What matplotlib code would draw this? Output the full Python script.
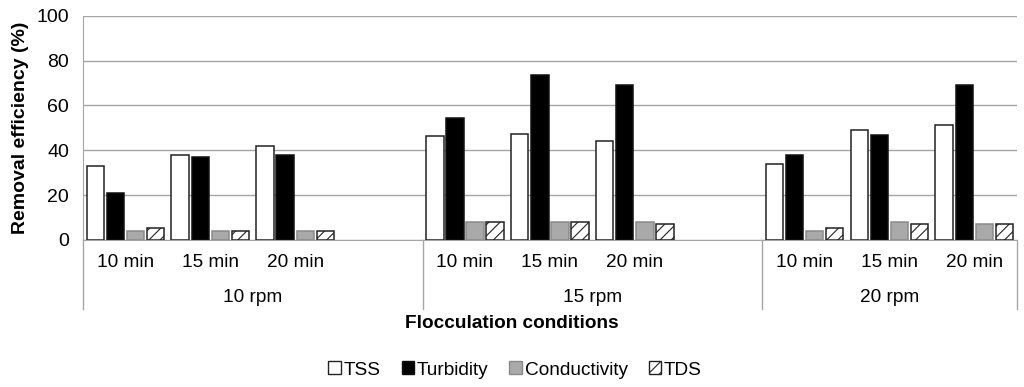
import matplotlib
matplotlib.use("Agg")
import matplotlib.pyplot as plt
from matplotlib.patches import Patch

# Data
speeds = ["10 rpm", "15 rpm", "20 rpm"]
times = ["10 min", "15 min", "20 min"]
tss = [33, 38, 42, 46.5, 47.2, 44.2, 34, 49, 51.2]
turbidity = [21, 37, 38, 54.2, 73.4, 69, 38, 47, 69]
conductivity = [4, 4, 4, 8.2, 8.2, 8.2, 4, 8.2, 7]
tds = [5.3, 4, 4, 8.2, 8.2, 7.1, 5.2, 7.1, 7]
group_slots = [4, 4, 3]  # Excel leaves an empty slot after the first two groups

plt.rcParams['font.family'] = ['Liberation Sans', 'DejaVu Sans']
plt.rcParams['hatch.linewidth'] = 0.8

fig = plt.figure(figsize=(10.24, 3.87), dpi=100)
ax = fig.add_axes([0.081, 0.380, 0.912, 0.579])

# slot position for every bar cluster
starts = [sum(group_slots[:i]) for i in range(len(group_slots))]
centers = []
for gi in range(len(speeds)):
    for ti in range(len(times)):
        centers.append(starts[gi] + ti + 0.5)

pitch = 0.237
width = 0.205
series = [
    (tss, dict(facecolor="white", edgecolor="#222222"), "TSS"),
    (turbidity, dict(facecolor="black", edgecolor="#111111"), "Turbidity"),
    (conductivity, dict(facecolor="#a9a9a9", edgecolor="#8a8a8a"), "Conductivity"),
    (tds, dict(facecolor="white", edgecolor="#222222", hatch="///"), "TDS"),
]
handles = []
for k, (vals, style, name) in enumerate(series):
    off = (k - 1.5) * pitch
    ax.bar([c + off for c in centers], vals, width, linewidth=1.1, zorder=3, **style)
    handles.append(Patch(linewidth=1.0, label=name, **style))

total = sum(group_slots)
ax.set_xlim(0, total)
ax.set_ylim(0, 100)
ax.set_yticks([0, 20, 40, 60, 80, 100])
ax.yaxis.grid(True, color="#a6a6a6", linewidth=1.0, zorder=0)
ax.tick_params(axis="y", length=0, labelsize=14, pad=10)
ax.tick_params(axis="x", bottom=False, labelbottom=False)
for s in ["top", "right"]:
    ax.spines[s].set_visible(False)
ax.spines["left"].set_color("#a6a6a6")
ax.spines["bottom"].set_color("#a6a6a6")
ax.set_ylabel("Removal efficiency (%)", fontsize=14, fontweight="bold", labelpad=5)

# multi-level category axis
tr = ax.get_xaxis_transform()
for c, t in zip(centers, times * len(speeds)):
    ax.text(c, -0.10, t, transform=tr, ha="center", va="center", fontsize=13.7)
for gi, name in enumerate(speeds):
    mid = starts[gi] + group_slots[gi] / 2
    ax.text(mid, -0.255, name, transform=tr, ha="center", va="center", fontsize=13.7)
for b in starts + [total]:
    ax.plot([b, b], [0, -0.31], transform=tr, color="#a6a6a6", lw=1.0, clip_on=False)

fig.text(0.5, 1 - 323 / 387, "Flocculation conditions", ha="center", va="center",
         fontsize=13.7, fontweight="bold")
fig.legend(handles=handles, loc="center", bbox_to_anchor=(0.503, 1 - 370 / 387),
           ncol=4, frameon=False, fontsize=13.7, handlelength=0.65, handleheight=0.65,
           handletextpad=0.15, columnspacing=1.1)

fig.savefig("out.png", dpi=100)
